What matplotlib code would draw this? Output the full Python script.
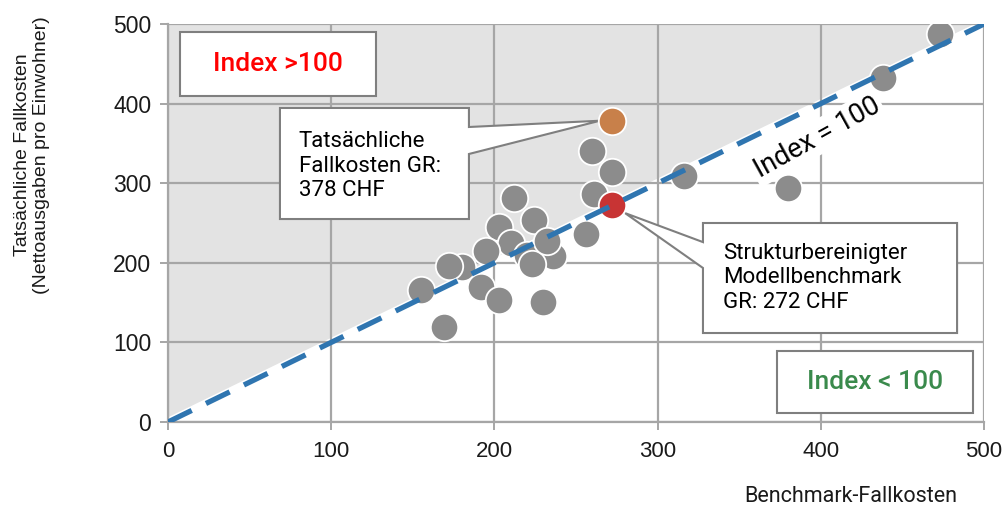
import matplotlib
matplotlib.use("Agg")
import matplotlib.pyplot as plt
from matplotlib.patches import Polygon
import numpy as np

# Kantone: Benchmark-Fallkosten (x) vs. tatsaechliche Fallkosten (y)
bench = [473, 438, 316, 380, 260, 272, 261, 256, 224, 212, 203, 210, 195,
         180, 172, 155, 192, 203, 230, 169, 220, 236, 223, 232]
actual = [487, 432, 309, 294, 341, 314, 286, 236, 254, 282, 245, 225, 215,
          195, 196, 166, 170, 153, 151, 119, 210, 208, 199, 227]
gr_actual = (272, 378)
gr_bench = (272, 272)
ticks = [0, 100, 200, 300, 400, 500]

grey = "#8c8c8c"
gridc = "#a6a6a6"
boxedge = "#7f7f7f"

fig = plt.figure(figsize=(10.08, 5.08), dpi=100)
ax = fig.add_axes([168 / 1008, 86 / 508, 816 / 1008, 398 / 508])
ax.set_xlim(0, 500)
ax.set_ylim(0, 500)

# shaded area above the diagonal
ax.fill([0, 0, 500], [0, 500, 500], color="#e3e3e3", zorder=0, lw=0)
ax.plot([0, 500], [0, 500], color="white", lw=6, zorder=0.5, solid_capstyle="butt")

ax.set_xticks(ticks)
ax.set_yticks(ticks)
ax.grid(True, color=gridc, lw=1.6, zorder=1)
ax.set_axisbelow(True)
for s in ["top", "right"]:
    ax.spines[s].set_visible(False)
for s in ["left", "bottom"]:
    ax.spines[s].set_color(gridc)
    ax.spines[s].set_linewidth(1.6)
ax.tick_params(axis="both", color=gridc, width=1.4, length=6, labelcolor="#1a1a1a")
ax.tick_params(axis="x", pad=8, labelsize=16)
ax.tick_params(axis="y", pad=6, labelsize=16.5)
for lab in ax.get_xticklabels() + ax.get_yticklabels():
    lab.set_family("Liberation Sans")

# callout boxes (drawn under the points)
call1 = [(68.6, 394.5), (184.4, 394.5), (184.4, 370.6), (264.7, 378.5),
         (184.4, 336.7), (184.4, 255.0), (68.6, 255.0)]
ax.add_patch(Polygon(call1, closed=True, fc="white", ec=boxedge, lw=1.5, zorder=2.5))
call2 = [(327.8, 250.0), (483.5, 250.0), (483.5, 111.8), (327.8, 111.8),
         (327.8, 193.5), (280.0, 262.5), (327.8, 226.0)]
ax.add_patch(Polygon(call2, closed=True, fc="white", ec=boxedge, lw=1.5, zorder=2.5))

ax.scatter(bench, actual, s=390, c=grey, edgecolors="white", linewidths=1.3, zorder=3)
ax.scatter([gr_actual[0]], [gr_actual[1]], s=390, c="#c8804a", edgecolors="white",
           linewidths=1.3, zorder=3.2)
ax.scatter([gr_bench[0]], [gr_bench[1]], s=390, c="#c83434", edgecolors="white",
           linewidths=1.3, zorder=3.2)

# Index = 100 line
ax.plot([0, 500], [0, 500], color="#2f75b0", lw=3.8, ls=(0, (5, 3)), zorder=4)

ax.text(80, 321.6, "Tatsächliche\nFallkosten GR:\n378 CHF", family="Roboto",
        fontsize=16, ha="left", va="center", linespacing=1.2, zorder=5)
ax.text(340, 181, "Strukturbereinigter\nModellbenchmark\nGR: 272 CHF", family="Roboto",
        fontsize=16, ha="left", va="center", linespacing=1.2, zorder=5)

ax.add_patch(plt.Rectangle((7.4, 409.5), 120.1, 80.5, fc="white", ec=boxedge, lw=1.5, zorder=4.5))
ax.text(67.4, 450, "Index >100", family="Roboto", fontsize=19, weight="medium",
        color="#ff0000", ha="center", va="center", zorder=5)
ax.add_patch(plt.Rectangle((373, 11.3), 120, 77.7, fc="white", ec=boxedge, lw=1.5, zorder=4.5))
ax.text(433, 50, "Index < 100", family="Roboto", fontsize=19, weight="medium",
        color="#3a8a4c", ha="center", va="center", zorder=5)

ax.text(397.7, 357, "Index = 100", family="Roboto", fontsize=19.5, rotation=29,
        rotation_mode="anchor", ha="center", va="center", zorder=6,
        bbox=dict(boxstyle="square,pad=0.12", fc="white", ec="none"))

fig.text(32 / 1008, 1 - 155 / 508, "Tatsächliche Fallkosten\n(Nettoausgaben pro Einwohner)",
         family="Liberation Sans", fontsize=14, rotation=90, ha="center", va="center",
         multialignment="center", linespacing=1.1, color="#1a1a1a")
fig.text(851 / 1008, 1 - 496 / 508, "Benchmark-Fallkosten", family="Roboto",
         fontsize=15.5, ha="center", va="center", color="#1a1a1a")

fig.savefig("out.png", dpi=100)
